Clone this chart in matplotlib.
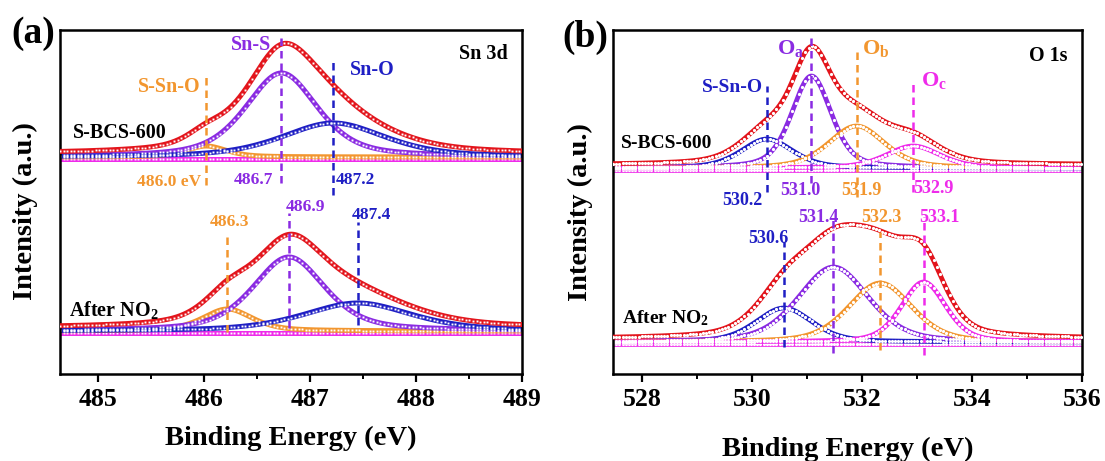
import numpy as np
import matplotlib
matplotlib.use("Agg")
import matplotlib.pyplot as plt
from matplotlib.ticker import MultipleLocator

plt.rcParams['font.family'] = ['Liberation Serif', 'DejaVu Serif']
plt.rcParams['font.weight'] = 'bold'
plt.rcParams['mathtext.fontset'] = 'custom'
plt.rcParams['mathtext.rm'] = 'Liberation Serif:bold'
plt.rcParams['mathtext.bf'] = 'Liberation Serif:bold'
plt.rcParams['mathtext.it'] = 'Liberation Serif:bold'

# colours of the fit components
RED = '#e3151c'
PURPLE = '#8a2be2'
BLUE = '#1f1fc4'
ORANGE = '#f2962f'
MAGENTA = '#ee2bea'

# ---- Sn 3d fit components (order: S-Sn-O, Sn-S, Sn-O) ----
sn_colors = [ORANGE, PURPLE, BLUE]
sn_top_centers = [486.02, 486.73, 487.22]
sn_top_heights = [11, 84, 34]
sn_top_fwhm = [0.45, 0.8, 1.15]
sn_top_base = 217
sn_top_labels = ['486.0 eV', '486.7', '487.2']
sn_bot_centers = [486.22, 486.8, 487.45]
sn_bot_heights = [22, 74, 28]
sn_bot_fwhm = [0.55, 0.8, 1.2]
sn_bot_base = 43
sn_bot_labels = ['486.3', '486.9', '487.4']

# ---- O 1s fit components (order: S-Sn-O, Oa, Ob, Oc) ----
o_colors = [BLUE, PURPLE, ORANGE, MAGENTA]
o_top_centers = [530.27, 531.08, 531.9, 532.93]
o_top_heights = [29, 92, 42, 22]
o_top_fwhm = [1.1, 0.85, 1.2, 1.15]
o_top_base = 206
o_top_labels = ['530.2', '531.0', '531.9', '532.9']
o_bot_centers = [530.58, 531.48, 532.33, 533.12]
o_bot_heights = [34, 75, 59, 60]
o_bot_fwhm = [1.2, 1.5, 1.35, 0.95]
o_bot_base = 32
o_bot_labels = ['530.6', '531.4', '532.3', '533.1']


def pv(x, c, h, w, eta=0.45):
    # pseudo-Voigt peak shape
    g = np.exp(-4 * np.log(2) * ((x - c) / w) ** 2)
    l = 1 / (1 + 4 * ((x - c) / w) ** 2)
    return h * (eta * l + (1 - eta) * g)


def dotted_curve(ax, x, y, color, hollow=False, z=2):
    if hollow:
        ax.plot(x, y, color=color, lw=3.4, zorder=z, solid_capstyle='butt')
        ax.plot(x[::3], y[::3], ls='none', marker='o', ms=2.3, mfc='white',
                mec='white', mew=0, zorder=z + 0.5)
    else:
        ax.plot(x, y, color=color, lw=3.6, zorder=z)
        ax.plot(x[::4], y[::4], ls='none', marker='s', ms=1.4, mfc='white',
                mec='white', mew=0, zorder=z + 0.5)


def draw_set(ax, x, centers, heights, fwhm, colors, base, hollow, eta):
    comps = [pv(x, c, h, w, eta) for c, h, w in zip(centers, heights, fwhm)]
    dotted_curve(ax, x, np.full_like(x, base - 2), MAGENTA, hollow, z=1)
    for comp, col in zip(comps, colors):
        dotted_curve(ax, x, base + comp, col, hollow, z=2)
    dotted_curve(ax, x, base + 3 + 1.05 * np.sum(comps, axis=0), RED, hollow, z=3)


def vdash(ax, x, y0, y1, color):
    ax.plot([x, x], [y0, y1], color=color, ls=(0, (3, 2)), lw=1.8, zorder=5)


fig = plt.figure(figsize=(11.05, 4.61), dpi=100)
W, H = 1105, 461
B = 374  # pixel row of both x axes; y values below are 374 - pixel row
axa = fig.add_axes([60 / W, (H - B) / H, (522 - 60) / W, (B - 30) / H])
axb = fig.add_axes([613 / W, (H - B) / H, (1082 - 613) / W, (B - 30) / H])

# ---------------- (a) Sn 3d ----------------
xa = np.linspace(484.64, 489.0, 520)
draw_set(axa, xa, sn_top_centers, sn_top_heights, sn_top_fwhm, sn_colors,
         sn_top_base, False, 0.5)
draw_set(axa, xa, sn_bot_centers, sn_bot_heights, sn_bot_fwhm, sn_colors,
         sn_bot_base, False, 0.5)
axa.set_xlim(484.64, 489.0)
axa.set_ylim(0, B - 30)

# dashed markers (start / end rows in pixels)
for c, col, y0, y1 in zip(sn_top_centers, sn_colors, [185, 183, 195], [75, 35, 62]):
    vdash(axa, c, B - y0, B - y1, col)
for c, col, y0, y1 in zip(sn_bot_centers, sn_colors, [332, 328, 325], [232, 213, 222]):
    vdash(axa, c, B - y0, B - y1, col)

tk = dict(fontsize=14.5, fontweight='bold', ha='center', va='center')
nk = dict(fontsize=12.5, fontweight='bold', ha='center', va='center')
axa.text(485.67, B - 87, 'S-Sn-O', color=ORANGE, **tk)
axa.text(486.44, B - 45, 'Sn-S', color=PURPLE, **tk)
axa.text(487.59, B - 70, 'Sn-O', color=BLUE, **tk)
for lab, xx, yy, col in zip(sn_top_labels, [485.67, 486.47, 487.43],
                            [182, 180, 180], sn_colors):
    axa.text(xx, B - yy, lab, color=col, **nk)
for lab, xx, yy, col in zip(sn_bot_labels, [486.24, 486.96, 487.58],
                            [222, 207, 215], sn_colors):
    axa.text(xx, B - yy, lab, color=col, **nk)
axa.text(485.2, B - 133, 'S-BCS-600', color='black', **tk)
axa.text(485.15, B - 310, r'After NO$_\mathbf{2}$', color='black', **tk)
axa.text(0.97, 0.93, 'Sn 3d', transform=axa.transAxes, fontsize=14.5,
         fontweight='bold', ha='right', va='center')

axa.xaxis.set_major_locator(MultipleLocator(1))
axa.xaxis.set_minor_locator(MultipleLocator(0.5))

# ---------------- (b) O 1s ----------------
xb = np.linspace(527.47, 536.0, 440)
draw_set(axb, xb, o_top_centers, o_top_heights, o_top_fwhm, o_colors,
         o_top_base, True, 0.4)
draw_set(axb, xb, o_bot_centers, o_bot_heights, o_bot_fwhm, o_colors,
         o_bot_base, True, 0.35)
axb.set_xlim(527.47, 536.0)
axb.set_ylim(0, B - 30)

for c, col, y0, y1 in zip(o_top_centers, o_colors, [192, 183, 197, 192], [86, 37, 47, 80]):
    vdash(axb, c, B - y0, B - y1, col)
for c, col, y0, y1 in zip(o_bot_centers, o_colors, [347, 353, 350, 355], [242, 217, 232, 217]):
    vdash(axb, c, B - y0, B - y1, col)

tk2 = dict(fontsize=14, fontweight='bold', ha='center', va='center')
nk2 = dict(fontsize=13, fontweight='bold', ha='center', va='center')
axb.text(529.65, B - 87, 'S-Sn-O', color=BLUE, **tk2)
axb.text(530.7, B - 48, r'O$_\mathbf{a}$', color=PURPLE, fontsize=16,
         fontweight='bold', ha='center', va='center')
axb.text(532.25, B - 48, r'O$_\mathbf{b}$', color=ORANGE, fontsize=16,
         fontweight='bold', ha='center', va='center')
axb.text(533.3, B - 80, r'O$_\mathbf{c}$', color=MAGENTA, fontsize=16,
         fontweight='bold', ha='center', va='center')
for lab, xx, yy, col in zip(o_top_labels, [529.82, 530.88, 531.98, 533.3],
                            [200, 190, 190, 188], o_colors):
    axb.text(xx, B - yy, lab, color=col, **nk2)
for lab, xx, yy, col in zip(o_bot_labels, [530.3, 531.2, 532.35, 533.4],
                            [238, 217, 217, 217], o_colors):
    axb.text(xx, B - yy, lab, color=col, **nk2)
axb.text(528.45, B - 143, 'S-BCS-600', color='black', **tk2)
axb.text(528.42, B - 318, r'After NO$_\mathbf{2}$', color='black', **tk2)
axb.text(0.97, 0.925, 'O 1s', transform=axb.transAxes, fontsize=14.5,
         fontweight='bold', ha='right', va='center')

axb.xaxis.set_major_locator(MultipleLocator(2))
axb.xaxis.set_minor_locator(MultipleLocator(1))

for ax in (axa, axb):
    for s in ax.spines.values():
        s.set_linewidth(1.8)
    ax.set_yticks([])
    ax.tick_params(axis='x', which='major', direction='out', length=6, width=1.6,
                   labelsize=18.5, pad=4)
    ax.tick_params(axis='x', which='minor', direction='out', length=3.5, width=1.4)
    ax.tick_params(axis='x', which='both', top=False)
    for lab in ax.get_xticklabels():
        lab.set_fontweight('bold')
    ax.set_xlabel('Binding Energy (eV)', fontsize=20.5, fontweight='bold', va='center')
    ax.set_ylabel('Intensity (a.u.)', fontsize=20.5, fontweight='bold')

axa.xaxis.set_label_coords(0.5, -(438 - B) / (B - 30))
axa.yaxis.set_label_coords(-(60 - 38) / (522 - 60), 0.475)
axb.xaxis.set_label_coords(0.5, -(449 - B) / (B - 30))
axb.yaxis.set_label_coords(-(613 - 593) / (1082 - 613), 0.47)

fig.text(33 / W, 1 - 33 / H, '(a)', fontsize=27, fontweight='bold',
         ha='center', va='center')
fig.text(585 / W, 1 - 37 / H, '(b)', fontsize=27, fontweight='bold',
         ha='center', va='center')

fig.savefig('out.png', dpi=100)
